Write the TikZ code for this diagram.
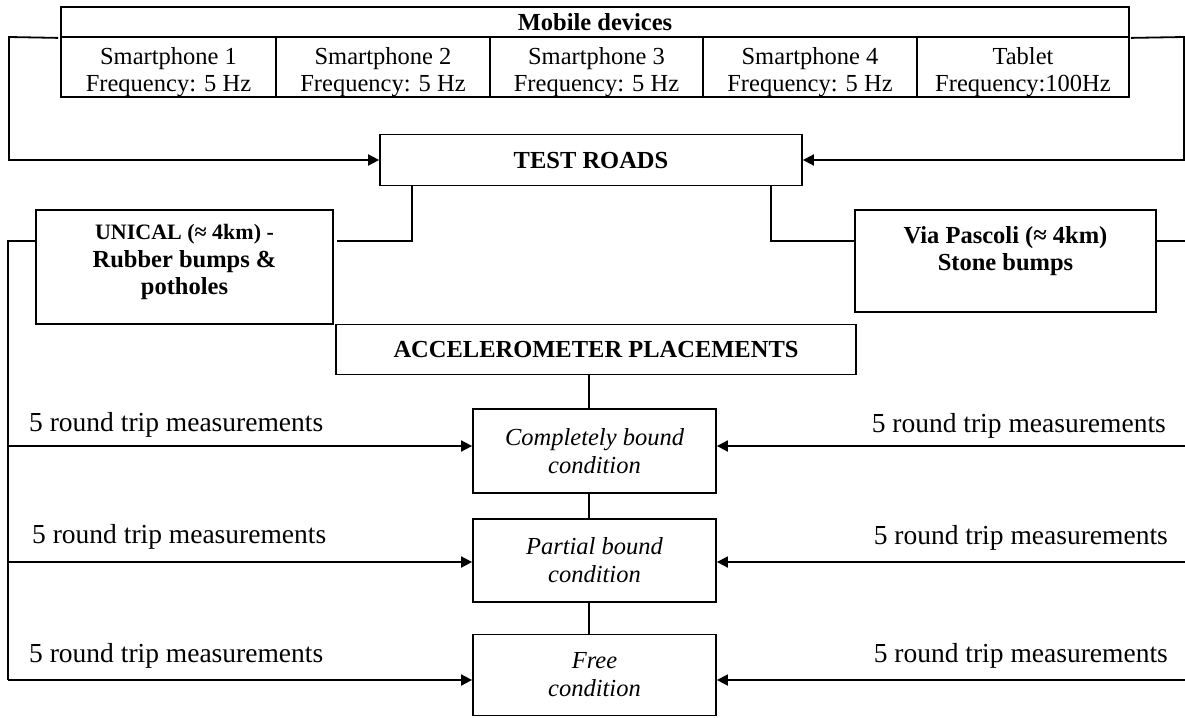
\documentclass[tikz,border=0pt]{standalone}
\usepackage{fontspec}
\setmainfont{Liberation Serif}
\usetikzlibrary{arrows.meta,calc}
\begin{document}
\begin{tikzpicture}[x=1pt,y=-1pt,
  box/.style={draw,line width=1.8pt,rectangle,inner sep=0pt},
  txt/.style={align=center,font=\fontsize{24.5}{27.5}\selectfont},
  btxt/.style={align=center,font=\fontsize{24.5}{27.5}\selectfont\bfseries},
  itxt/.style={align=center,font=\fontsize{24.5}{28}\selectfont\itshape},
  lbl/.style={font=\fontsize{27.5}{30}\selectfont,inner sep=0pt},
  conn/.style={line width=1.8pt},
  thinconn/.style={line width=1.4pt},
  arr/.style={line width=1.8pt,-{Triangle[length=11pt,width=11pt]}}]
\useasboundingbox (0,0) rectangle (1185,717);
% mobile devices
\node[box,minimum width=1068,minimum height=30] (head) at (595,22) {};
\node[btxt] (headt) at (595,22) {Mobile devices};
\node[box,minimum width=215,minimum height=60] (c1) at (168.5,67) {};
\node[box,minimum width=214,minimum height=60] (c2) at (383,67) {};
\node[box,minimum width=213,minimum height=60] (c3) at (596.5,67) {};
\node[box,minimum width=214,minimum height=60] (c4) at (810,67) {};
\node[box,minimum width=212,minimum height=60] (c5) at (1023,67) {};
\node[txt] (c1t) at (168.5,72) {Smartphone 1\\Frequency: 5 Hz};
\node[txt] (c2t) at (383,72) {Smartphone 2\\Frequency: 5 Hz};
\node[txt] (c3t) at (596.5,72) {Smartphone 3\\Frequency: 5 Hz};
\node[txt] (c4t) at (810,72) {Smartphone 4\\Frequency: 5 Hz};
\node[txt] (c5t) at (1023,72) {Tablet\\Frequency:100Hz};
% test roads
\node[box,minimum width=422,minimum height=51] (test) at (591,160) {};
\node[btxt] (testt) at (591,161) {TEST ROADS};
% roads
\node[box,minimum width=297,minimum height=114] (unical) at (184.5,267) {};
\node[btxt] (unicalt) at (184.5,262) {{\fontsize{22}{27.5}\selectfont UNICAL (≈ 4km) -}\\Rubber bumps \&\\potholes};
\node[box,minimum width=301,minimum height=102] (via) at (1005.5,261) {};
\node[btxt] (viat) at (1005.5,251) {Via Pascoli (≈ 4km)\\Stone bumps};
% accelerometer
\node[box,minimum width=520,minimum height=50] (acc) at (596,349.5) {};
\node[btxt] (acct) at (596,350) {ACCELEROMETER PLACEMENTS};
% conditions
\node[box,minimum width=243,minimum height=84,itxt] (comp) at (594.5,451) {Completely bound\\condition};
\node[box,minimum width=243,minimum height=83,itxt] (part) at (594.5,560.5) {Partial bound\\condition};
\node[box,minimum width=243,minimum height=81,itxt] (free) at (594.5,675) {Free\\condition};
% coordinates
\coordinate (mL) at (9,37);
\coordinate (mR) at (1184,37);
\coordinate (rowA) at (0,241);
\coordinate (ul) at (412,0);
\coordinate (ur) at (771,0);
\coordinate (lTop) at (8,241);
\coordinate (vR) at (1185,241);
\coordinate (la1) at (8,446);
\coordinate (la2) at (8,562);
\coordinate (la3) at (8,680);
\coordinate (ra1) at (1185,446);
\coordinate (ra2) at (1185,562);
\coordinate (ra3) at (1185,680);
\coordinate (cx) at (589,0);
% mobile to test roads
\draw[arr] ([xshift=-2pt]head.south west) -- (mL) |- (test.west);
\draw[arr] ([xshift=1pt]head.south east) -- (mR) |- (test.east);
% test roads to roads
\draw[thinconn] (test.south -| ul) |- ([xshift=3pt]unical.east |- rowA);
\draw[thinconn] (test.south -| ur) |- (via.west |- rowA);
\draw[thinconn] (via.east |- rowA) -- (vR);
\draw[conn] (unical.west |- rowA) -- (lTop) -- (la3);
% accelerometer chain
\draw[thinconn] (acc.south -| cx) -- (comp.north -| cx);
\draw[thinconn] (comp.south -| cx) -- (part.north -| cx);
\draw[thinconn] (part.south -| cx) -- (free.north -| cx);
% measurement arrows
\draw[arr] (la1) -- (comp.west |- la1);
\draw[arr] (la2) -- (part.west |- la2);
\draw[arr] (la3) -- (free.west |- la3);
\draw[arr] (ra1) -- (comp.east |- ra1);
\draw[arr] (ra2) -- (part.east |- ra2);
\draw[arr] (ra3) -- (free.east |- ra3);
% labels
\node[lbl,anchor=base west] (l1) at (29,431) {5 round trip measurements};
\node[lbl,anchor=base west] (l2) at (32,543) {5 round trip measurements};
\node[lbl,anchor=base west] (l3) at (29,662) {5 round trip measurements};
\node[lbl,anchor=base east] (r1) at (1166,432) {5 round trip measurements};
\node[lbl,anchor=base east] (r2) at (1168,544) {5 round trip measurements};
\node[lbl,anchor=base east] (r3) at (1168,662) {5 round trip measurements};
\end{tikzpicture}
\end{document}
